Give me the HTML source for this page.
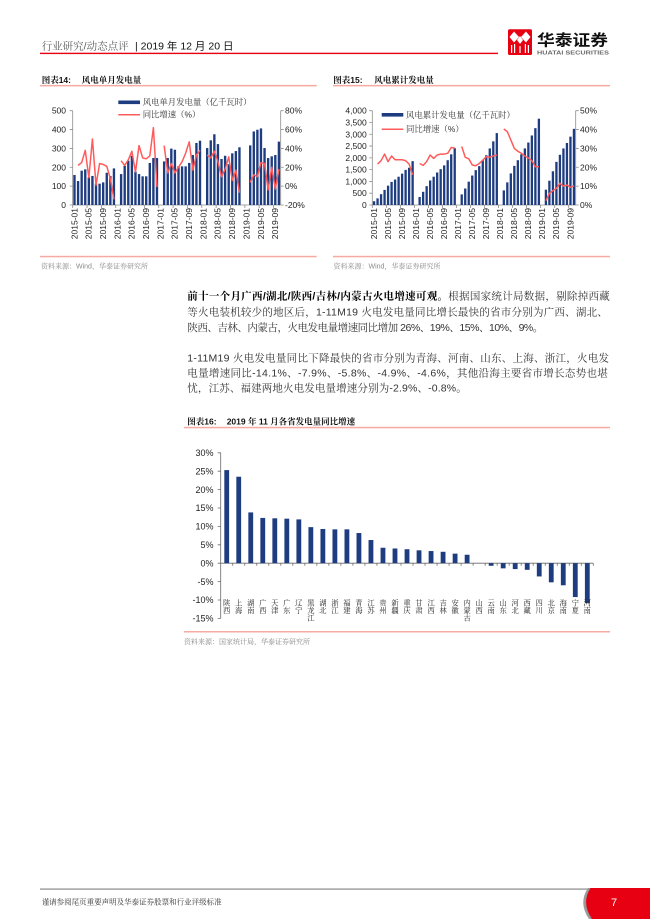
<!DOCTYPE html>
<html><head><meta charset="utf-8"><style>
html,body{margin:0;padding:0;background:#fff;}
body{width:650px;height:919px;overflow:hidden;}
svg{display:block;}
.t{font-family:"Liberation Sans","Noto Serif CJK SC",serif;}
.s{font-family:"Liberation Sans","Noto Sans CJK SC",sans-serif;}
.ax{font-family:"Liberation Sans","Noto Sans CJK SC",sans-serif;font-size:8.5px;fill:#222;}
.lg{font-family:"Liberation Sans","Noto Serif CJK SC",serif;font-size:8.4px;fill:#333;}
.ttl{font-family:"Liberation Sans","Noto Serif CJK SC",serif;font-size:8.5px;font-weight:700;fill:#111;}
.src{font-family:"Liberation Sans","Noto Serif CJK SC",serif;font-size:7px;fill:#8a8a8a;}
.p{font-family:"Liberation Sans","Noto Serif CJK SC",serif;font-size:10.5px;fill:#333;}
.cl{font-family:"Liberation Sans","Noto Serif CJK SC",serif;font-size:7.3px;fill:#222;}
</style></head><body>
<svg width="650" height="919" viewBox="0 0 650 919" xmlns="http://www.w3.org/2000/svg">
<!-- Header -->
<text class="t" x="41.7" y="49.7" font-size="10.5" fill="#595959">行业研究/动态点评</text>
<text class="s" x="135" y="49.7" font-size="10.5" fill="#111">| 2019 年 12 月 20 日</text>
<rect x="40" y="52.7" width="458" height="1.4" fill="#e60012"/>
<!-- logo -->
<rect x="508" y="29.3" width="24" height="25.7" rx="1.5" fill="#e60012"/>
<polygon points="514,31.5 519,37 514,42.5 509.5,37" fill="#fff"/>
<polygon points="526,31.5 530.5,37 526,42.5 521,37" fill="#fff"/>
<polygon points="520,36 523,40 520,44 517,40" fill="#fff"/>
<rect x="511" y="45" width="1.2" height="8" fill="#fff"/>
<rect x="514" y="44" width="1.2" height="9" fill="#fff"/>
<rect x="519.4" y="46" width="1.2" height="7" fill="#fff"/>
<rect x="524.8" y="44" width="1.2" height="9" fill="#fff"/>
<rect x="527.8" y="45" width="1.2" height="8" fill="#fff"/>
<text class="s" x="537" y="45.5" font-size="15.5" font-weight="700" fill="#111" textLength="71" lengthAdjust="spacingAndGlyphs">华泰证券</text>
<text class="s" x="537" y="54.3" font-size="5" font-weight="700" fill="#6b6b6b" textLength="72" lengthAdjust="spacingAndGlyphs">HUATAI SECURITIES</text>

<!-- Chart titles -->
<text class="ttl" x="41.7" y="83">图表14:</text>
<text class="ttl" x="81.7" y="83">风电单月发电量</text>
<rect x="40" y="84.9" width="276.7" height="1.5" fill="#f5aaa2"/>
<text class="ttl" x="333.3" y="83">图表15:</text>
<text class="ttl" x="374.3" y="83">风电累计发电量</text>
<rect x="333" y="84.9" width="277" height="1.5" fill="#f5aaa2"/>

<!-- ===== Chart 14 ===== -->
<g stroke="#8c8c8c" stroke-width="0.8" fill="none">
<line x1="72.7" y1="110.7" x2="72.7" y2="205"/>
<line x1="280.7" y1="110.7" x2="280.7" y2="205"/>
<line x1="72.7" y1="205" x2="280.7" y2="205"/>
<path d="M69.7 110.7H72.7M69.7 129.56H72.7M69.7 148.42H72.7M69.7 167.28H72.7M69.7 186.14H72.7M69.7 205H72.7"/>
<path d="M280.7 110.7H283.7M280.7 129.56H283.7M280.7 148.42H283.7M280.7 167.28H283.7M280.7 186.14H283.7M280.7 205H283.7"/>
<path d="M72.7 205v3M87.04 205v3M101.39 205v3M115.73 205v3M130.08 205v3M144.42 205v3M158.76 205v3M173.11 205v3M187.45 205v3M201.8 205v3M216.14 205v3M230.48 205v3M244.83 205v3M259.17 205v3M273.52 205v3"/>
</g>
<g class="ax" text-anchor="end">
<text x="66" y="113.7">500</text><text x="66" y="132.6">400</text><text x="66" y="151.4">300</text>
<text x="66" y="170.3">200</text><text x="66" y="189.1">100</text><text x="66" y="208">0</text>
</g>
<g class="ax" text-anchor="start">
<text x="285" y="113.7">80%</text><text x="285" y="132.6">60%</text><text x="285" y="151.4">40%</text>
<text x="285" y="170.3">20%</text><text x="285" y="189.1">0%</text><text x="285" y="208">-20%</text>
</g>
<g class="ax" text-anchor="end">
<text transform="translate(77.3,208) rotate(-90)">2015-01</text>
<text transform="translate(91.6,208) rotate(-90)">2015-05</text>
<text transform="translate(106,208) rotate(-90)">2015-09</text>
<text transform="translate(120.3,208) rotate(-90)">2016-01</text>
<text transform="translate(134.7,208) rotate(-90)">2016-05</text>
<text transform="translate(149,208) rotate(-90)">2016-09</text>
<text transform="translate(163.4,208) rotate(-90)">2017-01</text>
<text transform="translate(177.7,208) rotate(-90)">2017-05</text>
<text transform="translate(192,208) rotate(-90)">2017-09</text>
<text transform="translate(206.4,208) rotate(-90)">2018-01</text>
<text transform="translate(220.7,208) rotate(-90)">2018-05</text>
<text transform="translate(235.1,208) rotate(-90)">2018-09</text>
<text transform="translate(249.4,208) rotate(-90)">2019-01</text>
<text transform="translate(263.8,208) rotate(-90)">2019-05</text>
<text transform="translate(278.1,208) rotate(-90)">2019-09</text>
</g>
<g transform="translate(72.7,205) scale(3.586,-0.1886)" fill="#1e3c80">
<rect x="0.17" width="0.66" height="159"/><rect x="1.17" width="0.66" height="127"/><rect x="2.17" width="0.66" height="182"/><rect x="3.17" width="0.66" height="189"/><rect x="4.17" width="0.66" height="147"/><rect x="5.17" width="0.66" height="154"/><rect x="6.17" width="0.66" height="113"/><rect x="7.17" width="0.66" height="113"/><rect x="8.17" width="0.66" height="120"/><rect x="9.17" width="0.66" height="171"/><rect x="10.17" width="0.66" height="154"/><rect x="11.17" width="0.66" height="194"/>
<rect x="13.17" width="0.66" height="164"/><rect x="14.17" width="0.66" height="208"/><rect x="15.17" width="0.66" height="235"/><rect x="16.17" width="0.66" height="261"/><rect x="17.17" width="0.66" height="177"/><rect x="18.17" width="0.66" height="164"/><rect x="19.17" width="0.66" height="152"/><rect x="20.17" width="0.66" height="152"/><rect x="21.17" width="0.66" height="223"/><rect x="22.17" width="0.66" height="249"/><rect x="23.17" width="0.66" height="249"/>
<rect x="25.17" width="0.66" height="231"/><rect x="26.17" width="0.66" height="249"/><rect x="27.17" width="0.66" height="299"/><rect x="28.17" width="0.66" height="293"/><rect x="29.17" width="0.66" height="205"/><rect x="30.17" width="0.66" height="205"/><rect x="31.17" width="0.66" height="205"/><rect x="32.17" width="0.66" height="223"/><rect x="33.17" width="0.66" height="265"/><rect x="34.17" width="0.66" height="329"/><rect x="35.17" width="0.66" height="341"/>
<rect x="37.17" width="0.66" height="302"/><rect x="38.17" width="0.66" height="343"/><rect x="39.17" width="0.66" height="375"/><rect x="40.17" width="0.66" height="323"/><rect x="41.17" width="0.66" height="244"/><rect x="42.17" width="0.66" height="261"/><rect x="43.17" width="0.66" height="216"/><rect x="44.17" width="0.66" height="274"/><rect x="45.17" width="0.66" height="286"/><rect x="46.17" width="0.66" height="306"/>
<rect x="49.17" width="0.66" height="316"/><rect x="50.17" width="0.66" height="390"/><rect x="51.17" width="0.66" height="399"/><rect x="52.17" width="0.66" height="406"/><rect x="53.17" width="0.66" height="302"/><rect x="54.17" width="0.66" height="249"/><rect x="55.17" width="0.66" height="258"/><rect x="56.17" width="0.66" height="265"/><rect x="57.17" width="0.66" height="336"/>
</g>
<g transform="translate(72.7,186.14) scale(3.586,-0.943)" fill="none" stroke="#ff5b5b" stroke-width="1.5" stroke-linejoin="round">
<polyline vector-effect="non-scaling-stroke" points="1.5,22 2.5,25 3.5,38 4.5,9 5.5,50 6.5,1 7.5,24 8.5,23 9.5,21 10.5,8 11.5,-14"/>
<polyline vector-effect="non-scaling-stroke" points="13.5,27 14.5,22 15.5,28 16.5,37 17.5,15 18.5,43 19.5,30 20.5,29 21.5,32 22.5,62 23.5,-1"/>
<polyline vector-effect="non-scaling-stroke" points="25.5,43 26.5,14 27.5,24 28.5,14 29.5,20 30.5,26 31.5,35 32.5,47 33.5,17 34.5,33 35.5,38"/>
<polyline vector-effect="non-scaling-stroke" points="37.5,33 38.5,30 39.5,37 40.5,26 41.5,10 42.5,18 43.5,31 44.5,6 45.5,17 46.5,-7"/>
<polyline vector-effect="non-scaling-stroke" points="49.5,4 50.5,12 51.5,10 52.5,25 53.5,24 54.5,-4 55.5,20 56.5,-3 57.5,18"/>
</g>
<rect x="118.3" y="100.5" width="21.7" height="3.6" fill="#1e3c80"/>
<text class="lg" x="142.7" y="105">风电单月发电量（亿千瓦时）</text>
<line x1="118.3" y1="114.7" x2="140" y2="114.7" stroke="#ff5b5b" stroke-width="1.5"/>
<text class="lg" x="142.7" y="117.7">同比增速（%）</text>
<rect x="40" y="255.8" width="276.7" height="1.5" fill="#f5aaa2"/>
<text class="src" x="41" y="268.5">资料来源：Wind，华泰证券研究所</text>

<!-- ===== Chart 15 ===== -->
<g stroke="#8c8c8c" stroke-width="0.8" fill="none">
<line x1="372.3" y1="110.7" x2="372.3" y2="205"/>
<line x1="575.7" y1="110.7" x2="575.7" y2="205"/>
<line x1="372.3" y1="205" x2="575.7" y2="205"/>
<path d="M369.3 110.7H372.3M369.3 122.49H372.3M369.3 134.28H372.3M369.3 146.06H372.3M369.3 157.85H372.3M369.3 169.64H372.3M369.3 181.43H372.3M369.3 193.21H372.3M369.3 205H372.3"/>
<path d="M575.7 110.7H578.7M575.7 129.56H578.7M575.7 148.42H578.7M575.7 167.28H578.7M575.7 186.14H578.7M575.7 205H578.7"/>
<path d="M372.3 205v3M386.33 205v3M400.36 205v3M414.38 205v3M428.41 205v3M442.44 205v3M456.47 205v3M470.5 205v3M484.52 205v3M498.55 205v3M512.58 205v3M526.61 205v3M540.64 205v3M554.66 205v3M568.69 205v3"/>
</g>
<g class="ax" text-anchor="end">
<text x="366.7" y="113.7">4,000</text><text x="366.7" y="125.5">3,500</text><text x="366.7" y="137.3">3,000</text>
<text x="366.7" y="149.1">2,500</text><text x="366.7" y="160.9">2,000</text><text x="366.7" y="172.6">1,500</text>
<text x="366.7" y="184.4">1,000</text><text x="366.7" y="196.2">500</text><text x="366.7" y="208">0</text>
</g>
<g class="ax" text-anchor="start">
<text x="580" y="113.7">50%</text><text x="580" y="132.6">40%</text><text x="580" y="151.4">30%</text>
<text x="580" y="170.3">20%</text><text x="580" y="189.1">10%</text><text x="580" y="208">0%</text>
</g>
<g class="ax" text-anchor="end">
<text transform="translate(376.9,208) rotate(-90)">2015-01</text>
<text transform="translate(390.9,208) rotate(-90)">2015-05</text>
<text transform="translate(404.9,208) rotate(-90)">2015-09</text>
<text transform="translate(418.9,208) rotate(-90)">2016-01</text>
<text transform="translate(433,208) rotate(-90)">2016-05</text>
<text transform="translate(447,208) rotate(-90)">2016-09</text>
<text transform="translate(461,208) rotate(-90)">2017-01</text>
<text transform="translate(475.1,208) rotate(-90)">2017-05</text>
<text transform="translate(489.1,208) rotate(-90)">2017-09</text>
<text transform="translate(503.1,208) rotate(-90)">2018-01</text>
<text transform="translate(517.2,208) rotate(-90)">2018-05</text>
<text transform="translate(531.2,208) rotate(-90)">2018-09</text>
<text transform="translate(545.2,208) rotate(-90)">2019-01</text>
<text transform="translate(559.2,208) rotate(-90)">2019-05</text>
<text transform="translate(573.3,208) rotate(-90)">2019-09</text>
</g>
<g transform="translate(372.3,205) scale(3.507,-0.023575)" fill="#1e3c80">
<rect x="0.17" width="0.66" height="160"/><rect x="1.17" width="0.66" height="280"/><rect x="2.17" width="0.66" height="460"/><rect x="3.17" width="0.66" height="640"/><rect x="4.17" width="0.66" height="820"/><rect x="5.17" width="0.66" height="980"/><rect x="6.17" width="0.66" height="1080"/><rect x="7.17" width="0.66" height="1200"/><rect x="8.17" width="0.66" height="1330"/><rect x="9.17" width="0.66" height="1490"/><rect x="10.17" width="0.66" height="1580"/><rect x="11.17" width="0.66" height="1860"/>
<rect x="13.17" width="0.66" height="340"/><rect x="14.17" width="0.66" height="560"/><rect x="15.17" width="0.66" height="800"/><rect x="16.17" width="0.66" height="1040"/><rect x="17.17" width="0.66" height="1200"/><rect x="18.17" width="0.66" height="1380"/><rect x="19.17" width="0.66" height="1520"/><rect x="20.17" width="0.66" height="1680"/><rect x="21.17" width="0.66" height="1900"/><rect x="22.17" width="0.66" height="2150"/><rect x="23.17" width="0.66" height="2410"/>
<rect x="25.17" width="0.66" height="450"/><rect x="26.17" width="0.66" height="700"/><rect x="27.17" width="0.66" height="990"/><rect x="28.17" width="0.66" height="1250"/><rect x="29.17" width="0.66" height="1480"/><rect x="30.17" width="0.66" height="1650"/><rect x="31.17" width="0.66" height="1900"/><rect x="32.17" width="0.66" height="2110"/><rect x="33.17" width="0.66" height="2400"/><rect x="34.17" width="0.66" height="2700"/><rect x="35.17" width="0.66" height="3050"/>
<rect x="37.17" width="0.66" height="620"/><rect x="38.17" width="0.66" height="960"/><rect x="39.17" width="0.66" height="1340"/><rect x="40.17" width="0.66" height="1660"/><rect x="41.17" width="0.66" height="1900"/><rect x="42.17" width="0.66" height="2150"/><rect x="43.17" width="0.66" height="2400"/><rect x="44.17" width="0.66" height="2650"/><rect x="45.17" width="0.66" height="2950"/><rect x="46.17" width="0.66" height="3260"/><rect x="47.17" width="0.66" height="3660"/>
<rect x="49.17" width="0.66" height="650"/><rect x="50.17" width="0.66" height="1030"/><rect x="51.17" width="0.66" height="1430"/><rect x="52.17" width="0.66" height="1830"/><rect x="53.17" width="0.66" height="2130"/><rect x="54.17" width="0.66" height="2400"/><rect x="55.17" width="0.66" height="2630"/><rect x="56.17" width="0.66" height="2900"/><rect x="57.17" width="0.66" height="3230"/>
</g>
<g transform="translate(372.3,205) scale(3.507,-1.886)" fill="none" stroke="#ff5b5b" stroke-width="1.5" stroke-linejoin="round">
<polyline vector-effect="non-scaling-stroke" points="1.5,21.7 2.5,23.5 3.5,27 4.5,23 5.5,26 6.5,24 7.5,24 8.5,24 9.5,23.5 10.5,21.7 11.5,16"/>
<polyline vector-effect="non-scaling-stroke" points="13.5,22 14.5,21 15.5,23 16.5,26.5 17.5,24.7 18.5,26.5 19.5,27 20.5,27 21.5,27.4 22.5,30.5 23.5,30.2"/>
<polyline vector-effect="non-scaling-stroke" points="25.5,31 26.5,25.3 27.5,24.5 28.5,21.2 29.5,20.8 30.5,22 31.5,23.8 32.5,25.6 33.5,25.3 34.5,26 35.5,26.5"/>
<polyline vector-effect="non-scaling-stroke" points="37.5,40.3 38.5,38.9 39.5,34.5 40.5,30 41.5,28.5 42.5,27.4 43.5,26 44.5,24.9 45.5,23.5 46.5,20.3 47.5,20.3"/>
<polyline vector-effect="non-scaling-stroke" points="49.5,2.3 50.5,6.2 51.5,7.6 52.5,8.8 53.5,11.5 54.5,10 55.5,10.6 56.5,9.4 57.5,10.2"/>
</g>
<rect x="381.7" y="113" width="21.6" height="3.6" fill="#1e3c80"/>
<text class="lg" x="406" y="118">风电累计发电量（亿千瓦时）</text>
<line x1="381.7" y1="129.3" x2="403.3" y2="129.3" stroke="#ff5b5b" stroke-width="1.5"/>
<text class="lg" x="406" y="132.2">同比增速（%）</text>
<rect x="333" y="255.8" width="277" height="1.5" fill="#f5aaa2"/>
<text class="src" x="333.5" y="268.5">资料来源：Wind，华泰证券研究所</text>

<!-- ===== Paragraphs ===== -->
<text class="p" x="187.3" y="299.6" textLength="422.5" lengthAdjust="spacing"><tspan font-weight="700" fill="#000">前十一个月广西/湖北/陕西/吉林/内蒙古火电增速可观。</tspan>根据国家统计局数据，剔除掉西藏</text>
<text class="p" x="187.3" y="315.6" textLength="420.5" lengthAdjust="spacing">等火电装机较少的地区后，1-11M19 火电发电量同比增长最快的省市分别为广西、湖北、</text>
<text class="p" x="187.3" y="331.2" textLength="356" lengthAdjust="spacing">陕西、吉林、内蒙古，火电发电量增速同比增加 26%、19%、15%、10%、9%。</text>
<text class="p" x="187.3" y="361.7" textLength="421.7" lengthAdjust="spacing">1-11M19 火电发电量同比下降最快的省市分别为青海、河南、山东、上海、浙江，火电发</text>
<text class="p" x="187.3" y="376.7" textLength="420.5" lengthAdjust="spacing">电量增速同比-14.1%、-7.9%、-5.8%、-4.9%、-4.6%，其他沿海主要省市增长态势也堪</text>
<text class="p" x="187.3" y="391.7" textLength="279.4" lengthAdjust="spacing">忧，江苏、福建两地火电发电量增速分别为-2.9%、-0.8%。</text>

<!-- ===== Chart 16 ===== -->
<text class="ttl" x="187.3" y="424.7">图表16:</text>
<text class="ttl" x="226.7" y="424.7">2019 年 11 月各省发电量同比增速</text>
<rect x="184" y="426.8" width="426" height="1.5" fill="#f5aaa2"/>
<g stroke="#6a6a6a" stroke-width="0.8" fill="none">
<line x1="220.7" y1="452.8" x2="220.7" y2="618.4"/>
<line x1="220.7" y1="563.2" x2="593.3" y2="563.2"/>
<path d="M217.7 452.8H220.7M217.7 471.2H220.7M217.7 489.6H220.7M217.7 508H220.7M217.7 526.4H220.7M217.7 544.8H220.7M217.7 563.2H220.7M217.7 581.6H220.7M217.7 600H220.7M217.7 618.4H220.7"/>
<path d="M232.72 563.2v2.5M244.74 563.2v2.5M256.76 563.2v2.5M268.78 563.2v2.5M280.8 563.2v2.5M292.82 563.2v2.5M304.84 563.2v2.5M316.86 563.2v2.5M328.88 563.2v2.5M340.9 563.2v2.5M352.92 563.2v2.5M364.94 563.2v2.5M376.96 563.2v2.5M388.98 563.2v2.5M401 563.2v2.5M413.02 563.2v2.5M425.04 563.2v2.5M437.06 563.2v2.5M449.08 563.2v2.5M461.1 563.2v2.5M473.12 563.2v2.5M485.14 563.2v2.5M497.16 563.2v2.5M509.18 563.2v2.5M521.2 563.2v2.5M533.22 563.2v2.5M545.24 563.2v2.5M557.26 563.2v2.5M569.28 563.2v2.5M581.3 563.2v2.5M593.3 563.2v2.5"/>
</g>
<g font-family="Liberation Sans, sans-serif" font-size="9" fill="#222" text-anchor="end">
<text x="213.5" y="456">30%</text><text x="213.5" y="474.4">25%</text><text x="213.5" y="492.8">20%</text>
<text x="213.5" y="511.2">15%</text><text x="213.5" y="529.6">10%</text><text x="213.5" y="548">5%</text>
<text x="213.5" y="566.4">0%</text><text x="213.5" y="584.8">-5%</text><text x="213.5" y="603.2">-10%</text>
<text x="213.5" y="621.6">-15%</text>
</g>
<g transform="translate(220.7,563.2) scale(12.02,-3.68)" fill="#1e3c80">
<rect x="0.3" y="0" width="0.4" height="25.3"/>
<rect x="1.3" y="0" width="0.4" height="23.5"/>
<rect x="2.3" y="0" width="0.4" height="13.8"/>
<rect x="3.3" y="0" width="0.4" height="12.3"/>
<rect x="4.3" y="0" width="0.4" height="12.2"/>
<rect x="5.3" y="0" width="0.4" height="12.1"/>
<rect x="6.3" y="0" width="0.4" height="11.9"/>
<rect x="7.3" y="0" width="0.4" height="9.8"/>
<rect x="8.3" y="0" width="0.4" height="9.3"/>
<rect x="9.3" y="0" width="0.4" height="9.2"/>
<rect x="10.3" y="0" width="0.4" height="9.2"/>
<rect x="11.3" y="0" width="0.4" height="8.2"/>
<rect x="12.3" y="0" width="0.4" height="6.3"/>
<rect x="13.3" y="0" width="0.4" height="4.2"/>
<rect x="14.3" y="0" width="0.4" height="4.0"/>
<rect x="15.3" y="0" width="0.4" height="3.8"/>
<rect x="16.3" y="0" width="0.4" height="3.5"/>
<rect x="17.3" y="0" width="0.4" height="3.3"/>
<rect x="18.3" y="0" width="0.4" height="3.1"/>
<rect x="19.3" y="0" width="0.4" height="2.6"/>
<rect x="20.3" y="0" width="0.4" height="2.3"/>
<rect x="22.3" y="-0.7" width="0.4" height="0.7"/>
<rect x="23.3" y="-1.4" width="0.4" height="1.4"/>
<rect x="24.3" y="-1.6" width="0.4" height="1.6"/>
<rect x="25.3" y="-1.8" width="0.4" height="1.8"/>
<rect x="26.3" y="-3.6" width="0.4" height="3.6"/>
<rect x="27.3" y="-5.2" width="0.4" height="5.2"/>
<rect x="28.3" y="-6.0" width="0.4" height="6.0"/>
<rect x="29.3" y="-9.2" width="0.4" height="9.2"/>
<rect x="30.3" y="-10.8" width="0.4" height="10.8"/>
</g>
<g class="cl" text-anchor="middle">
<text><tspan x="226.7" y="605.5">陕</tspan><tspan x="226.7" y="613.1">西</tspan></text>
<text><tspan x="238.7" y="605.5">上</tspan><tspan x="238.7" y="613.1">海</tspan></text>
<text><tspan x="250.8" y="605.5">湖</tspan><tspan x="250.8" y="613.1">南</tspan></text>
<text><tspan x="262.8" y="605.5">广</tspan><tspan x="262.8" y="613.1">西</tspan></text>
<text><tspan x="274.8" y="605.5">天</tspan><tspan x="274.8" y="613.1">津</tspan></text>
<text><tspan x="286.8" y="605.5">广</tspan><tspan x="286.8" y="613.1">东</tspan></text>
<text><tspan x="298.8" y="605.5">辽</tspan><tspan x="298.8" y="613.1">宁</tspan></text>
<text><tspan x="310.9" y="605.5">黑</tspan><tspan x="310.9" y="613.1">龙</tspan><tspan x="310.9" y="620.7">江</tspan></text>
<text><tspan x="322.9" y="605.5">湖</tspan><tspan x="322.9" y="613.1">北</tspan></text>
<text><tspan x="334.9" y="605.5">浙</tspan><tspan x="334.9" y="613.1">江</tspan></text>
<text><tspan x="346.9" y="605.5">福</tspan><tspan x="346.9" y="613.1">建</tspan></text>
<text><tspan x="358.9" y="605.5">青</tspan><tspan x="358.9" y="613.1">海</tspan></text>
<text><tspan x="371" y="605.5">江</tspan><tspan x="371" y="613.1">苏</tspan></text>
<text><tspan x="383" y="605.5">贵</tspan><tspan x="383" y="613.1">州</tspan></text>
<text><tspan x="395" y="605.5">新</tspan><tspan x="395" y="613.1">疆</tspan></text>
<text><tspan x="407" y="605.5">重</tspan><tspan x="407" y="613.1">庆</tspan></text>
<text><tspan x="419" y="605.5">甘</tspan><tspan x="419" y="613.1">肃</tspan></text>
<text><tspan x="431.1" y="605.5">江</tspan><tspan x="431.1" y="613.1">西</tspan></text>
<text><tspan x="443.1" y="605.5">吉</tspan><tspan x="443.1" y="613.1">林</tspan></text>
<text><tspan x="455.1" y="605.5">安</tspan><tspan x="455.1" y="613.1">徽</tspan></text>
<text><tspan x="467.1" y="605.5">内</tspan><tspan x="467.1" y="613.1">蒙</tspan><tspan x="467.1" y="620.7">古</tspan></text>
<text><tspan x="479.1" y="605.5">山</tspan><tspan x="479.1" y="613.1">西</tspan></text>
<text><tspan x="491.2" y="605.5">云</tspan><tspan x="491.2" y="613.1">南</tspan></text>
<text><tspan x="503.2" y="605.5">山</tspan><tspan x="503.2" y="613.1">东</tspan></text>
<text><tspan x="515.2" y="605.5">河</tspan><tspan x="515.2" y="613.1">北</tspan></text>
<text><tspan x="527.2" y="605.5">西</tspan><tspan x="527.2" y="613.1">藏</tspan></text>
<text><tspan x="539.2" y="605.5">四</tspan><tspan x="539.2" y="613.1">川</tspan></text>
<text><tspan x="551.3" y="605.5">北</tspan><tspan x="551.3" y="613.1">京</tspan></text>
<text><tspan x="563.3" y="605.5">海</tspan><tspan x="563.3" y="613.1">南</tspan></text>
<text><tspan x="575.3" y="605.5">宁</tspan><tspan x="575.3" y="613.1">夏</tspan></text>
<text><tspan x="587.3" y="605.5">河</tspan><tspan x="587.3" y="613.1">南</tspan></text>
</g>
<rect x="184" y="631" width="426" height="1.5" fill="#f5aaa2"/>
<text class="src" x="184" y="644.2">资料来源：国家统计局，华泰证券研究所</text>

<!-- ===== Footer ===== -->
<rect x="40" y="888.4" width="550" height="1.4" fill="#9a9a9a"/>
<path d="M588 888 L650 888 L650 919 L589 919 Q578 903 588 888 Z" fill="#9a9a9a"/>
<path d="M590.5 888 L650 888 L650 919 L592 919 Q581 903 590.5 888 Z" fill="#e60012"/>
<text class="t" x="41.7" y="904.6" font-size="7.5" fill="#333">谨请参阅尾页重要声明及华泰证券股票和行业评级标准</text>
<text class="s" x="611" y="906" font-size="11" fill="#fff">7</text>
</svg>
</body></html>
